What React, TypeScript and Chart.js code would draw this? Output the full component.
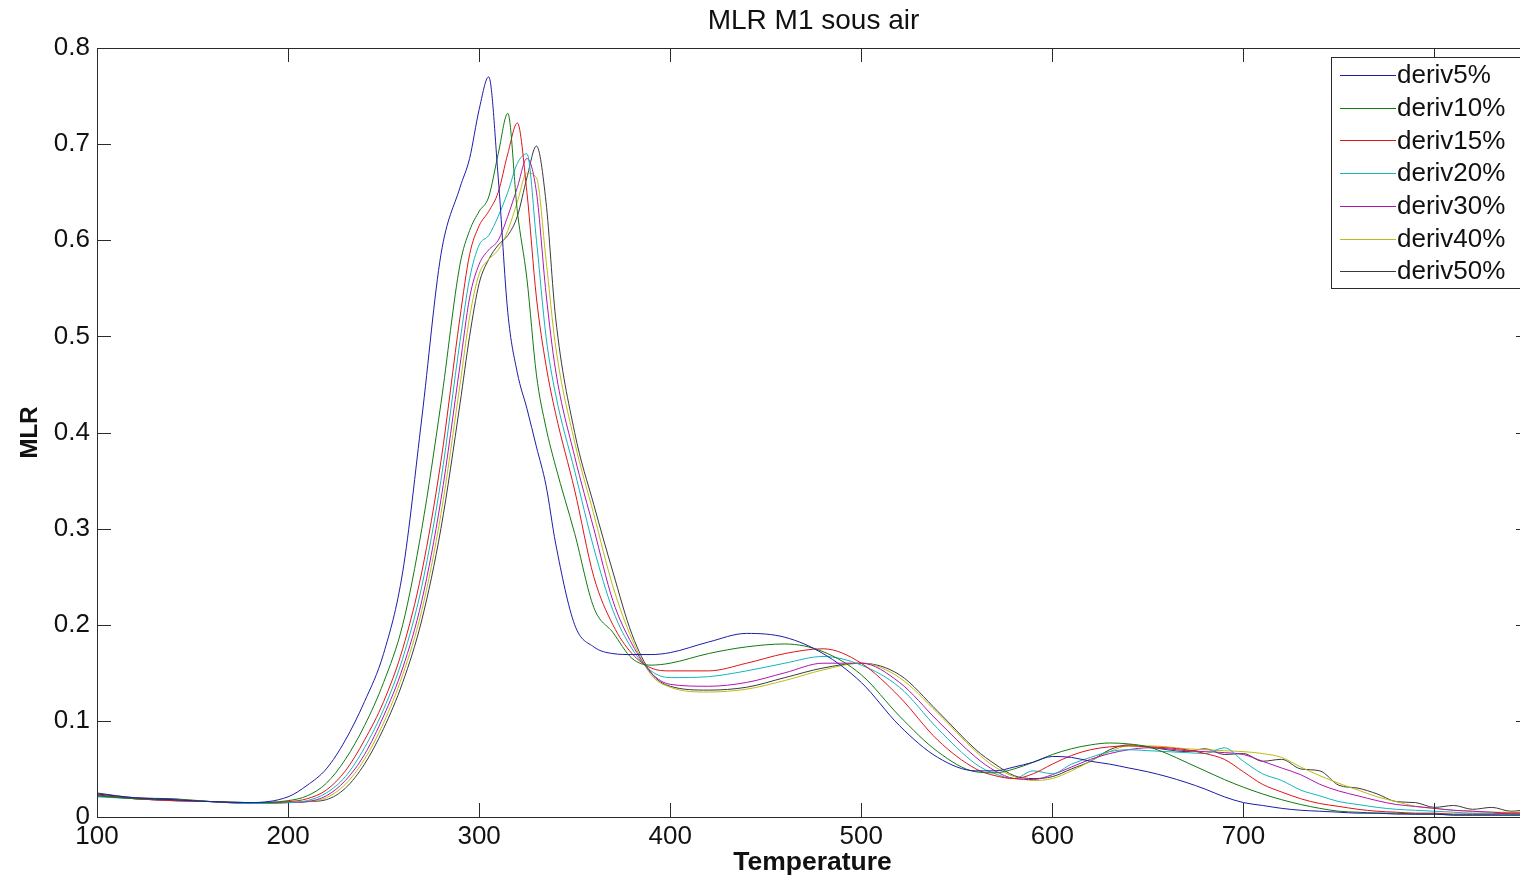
import React, { useEffect, useRef } from "react";
import { Chart, registerables } from "chart.js";

Chart.register(...registerables);

const TITLE = "MLR M1 sous air";
const X_LABEL = "Temperature";
const Y_LABEL = "MLR";
const X_TICKS = [100, 200, 300, 400, 500, 600, 700, 800];
const Y_TICKS = [0, 0.1, 0.2, 0.3, 0.4, 0.5, 0.6, 0.7, 0.8];

const TEMPS = [100, 120, 140, 160, 180, 200, 210, 220, 230, 240, 250, 260, 270, 280, 290, 295, 300, 305, 310, 315, 320, 325, 330, 335, 340, 350, 360, 370, 380, 390, 400, 420, 440, 460, 480, 500, 520, 540,
  560, 570, 580, 590, 600, 610, 620, 630, 640, 650, 660, 670, 680, 690, 700, 710, 720, 730, 740, 750, 760, 770, 780, 790, 800, 810, 820, 830, 840, 850];

const DERIV5 = [0.024, 0.020, 0.018, 0.016, 0.015, 0.021, 0.033, 0.050, 0.080, 0.120, 0.170, 0.255, 0.415, 0.585, 0.655, 0.685, 0.736, 0.770, 0.665, 0.525, 0.462, 0.425, 0.385, 0.345, 0.285, 0.200, 0.177, 0.170, 0.169, 0.169, 0.171, 0.182, 0.191, 0.187, 0.170, 0.140, 0.095, 0.062,
  0.048, 0.048, 0.052, 0.057, 0.063, 0.062, 0.058, 0.055, 0.051, 0.047, 0.042, 0.036, 0.029, 0.021, 0.015, 0.012, 0.009, 0.007, 0.006, 0.005, 0.004, 0.004, 0.003, 0.003, 0.003, 0.002, 0.002, 0.002, 0.002, 0.002];
const DERIV10 = [0.022, 0.019, 0.018, 0.016, 0.015, 0.017, 0.022, 0.035, 0.060, 0.095, 0.140, 0.200, 0.300, 0.430, 0.575, 0.610, 0.630, 0.645, 0.690, 0.732, 0.630, 0.560, 0.460, 0.405, 0.365, 0.295, 0.218, 0.192, 0.165, 0.158, 0.160, 0.170, 0.177, 0.180, 0.172, 0.148, 0.105, 0.068,
  0.047, 0.046, 0.050, 0.057, 0.065, 0.071, 0.075, 0.077, 0.076, 0.073, 0.066, 0.057, 0.048, 0.039, 0.031, 0.024, 0.018, 0.013, 0.009, 0.006, 0.005, 0.004, 0.004, 0.003, 0.003, 0.002, 0.002, 0.002, 0.002, 0.002];
const DERIV15 = [0.023, 0.019, 0.017, 0.016, 0.015, 0.016, 0.019, 0.028, 0.048, 0.080, 0.120, 0.175, 0.255, 0.370, 0.520, 0.585, 0.615, 0.630, 0.650, 0.690, 0.722, 0.650, 0.540, 0.470, 0.420, 0.340, 0.250, 0.200, 0.170, 0.155, 0.152, 0.152, 0.160, 0.170, 0.175, 0.160, 0.125, 0.080,
  0.050, 0.043, 0.040, 0.045, 0.055, 0.064, 0.070, 0.073, 0.074, 0.073, 0.072, 0.070, 0.066, 0.060, 0.047, 0.034, 0.026, 0.019, 0.014, 0.011, 0.008, 0.006, 0.005, 0.004, 0.004, 0.003, 0.003, 0.003, 0.004, 0.004];
const DERIV20 = [0.021, 0.019, 0.017, 0.016, 0.014, 0.015, 0.017, 0.025, 0.042, 0.072, 0.112, 0.165, 0.240, 0.350, 0.495, 0.560, 0.595, 0.605, 0.625, 0.650, 0.680, 0.690, 0.600, 0.500, 0.440, 0.360, 0.280, 0.215, 0.175, 0.152, 0.145, 0.146, 0.152, 0.160, 0.167, 0.158, 0.135, 0.092,
  0.055, 0.045, 0.040, 0.048, 0.045, 0.055, 0.062, 0.068, 0.070, 0.069, 0.068, 0.067, 0.066, 0.072, 0.058, 0.045, 0.038, 0.028, 0.022, 0.016, 0.013, 0.010, 0.008, 0.007, 0.006, 0.005, 0.004, 0.004, 0.003, 0.003];
const DERIV30 = [0.022, 0.019, 0.017, 0.016, 0.014, 0.015, 0.016, 0.022, 0.038, 0.065, 0.105, 0.155, 0.225, 0.330, 0.470, 0.540, 0.575, 0.590, 0.600, 0.625, 0.655, 0.685, 0.650, 0.545, 0.465, 0.375, 0.300, 0.225, 0.180, 0.150, 0.138, 0.136, 0.140, 0.150, 0.160, 0.160, 0.140, 0.100,
  0.062, 0.048, 0.040, 0.039, 0.044, 0.052, 0.060, 0.066, 0.070, 0.072, 0.071, 0.069, 0.068, 0.067, 0.065, 0.058, 0.051, 0.044, 0.034, 0.027, 0.022, 0.017, 0.013, 0.011, 0.009, 0.007, 0.006, 0.005, 0.004, 0.004];
const DERIV40 = [0.023, 0.019, 0.018, 0.016, 0.014, 0.015, 0.016, 0.020, 0.034, 0.060, 0.098, 0.148, 0.215, 0.315, 0.450, 0.520, 0.565, 0.580, 0.590, 0.610, 0.640, 0.670, 0.665, 0.580, 0.490, 0.390, 0.315, 0.240, 0.185, 0.148, 0.135, 0.130, 0.133, 0.142, 0.153, 0.160, 0.145, 0.108,
  0.068, 0.052, 0.042, 0.038, 0.040, 0.048, 0.058, 0.068, 0.074, 0.074, 0.073, 0.071, 0.070, 0.069, 0.068, 0.066, 0.062, 0.052, 0.043, 0.035, 0.028, 0.021, 0.016, 0.011, 0.009, 0.007, 0.006, 0.005, 0.005, 0.005];
const DERIV50 = [0.025, 0.020, 0.019, 0.016, 0.015, 0.015, 0.016, 0.018, 0.030, 0.055, 0.092, 0.140, 0.205, 0.300, 0.430, 0.500, 0.555, 0.580, 0.595, 0.605, 0.625, 0.665, 0.698, 0.640, 0.520, 0.400, 0.325, 0.255, 0.190, 0.150, 0.136, 0.132, 0.135, 0.145, 0.155, 0.160, 0.148, 0.110,
  0.070, 0.055, 0.043, 0.040, 0.042, 0.050, 0.058, 0.070, 0.075, 0.073, 0.070, 0.068, 0.071, 0.065, 0.066, 0.058, 0.060, 0.050, 0.048, 0.033, 0.030, 0.024, 0.016, 0.015, 0.010, 0.012, 0.008, 0.010, 0.006, 0.008];

const SERIES_LABELS = ["deriv5%", "deriv10%", "deriv15%", "deriv20%", "deriv30%", "deriv40%", "deriv50%"];
const SERIES_VALUES = [DERIV5, DERIV10, DERIV15, DERIV20, DERIV30, DERIV40, DERIV50];
const SERIES_COLORS = ["#1c1ca8", "#107a10", "#e01414", "#14b4bc", "#b014b0", "#bcbc14", "#3a3a3a"];

const FONT = "'Liberation Sans', Arial, Helvetica, sans-serif";
const AXIS_COLOR = "#2a2a2a";

const decorPlugin = {
  id: "decor",
  afterDraw(chart: any) {
    const ctx = chart.ctx;
    const a = chart.chartArea;
    const xs = chart.scales.x;
    const ys = chart.scales.y;
    ctx.save();
    ctx.strokeStyle = AXIS_COLOR;
    ctx.lineWidth = 1;
    ctx.strokeRect(Math.round(a.left) + 0.5, Math.round(a.top) + 0.5, Math.round(a.right - a.left), Math.round(a.bottom - a.top));
    const tl = 14;
    ctx.beginPath();
    X_TICKS.forEach((v) => {
      const px = Math.round(xs.getPixelForValue(v)) + 0.5;
      ctx.moveTo(px, a.bottom);
      ctx.lineTo(px, a.bottom - tl);
      ctx.moveTo(px, a.top);
      ctx.lineTo(px, a.top + tl);
    });
    Y_TICKS.forEach((v) => {
      const py = Math.round(ys.getPixelForValue(v)) + 0.5;
      ctx.moveTo(a.left, py);
      ctx.lineTo(a.left + tl, py);
      ctx.moveTo(a.right, py);
      ctx.lineTo(a.right - tl, py);
    });
    ctx.stroke();

    ctx.fillStyle = "#111";
    ctx.textAlign = "center";
    ctx.textBaseline = "alphabetic";
    ctx.font = `28px ${FONT}`;
    ctx.fillText(TITLE, (a.left + a.right) / 2, 29);
    ctx.font = `bold 26.5px ${FONT}`;
    ctx.fillText(X_LABEL, (a.left + a.right) / 2 - 1, 870);
    ctx.save();
    ctx.translate(37, (a.top + a.bottom) / 2);
    ctx.rotate(-Math.PI / 2);
    ctx.font = `bold 24px ${FONT}`;
    ctx.fillText(Y_LABEL, 0, 0);
    ctx.restore();

    const lx = 1331, ly = 57, lw = 194, lh = 231;
    ctx.fillStyle = "#fff";
    ctx.fillRect(lx, ly, lw, lh);
    ctx.strokeStyle = AXIS_COLOR;
    ctx.strokeRect(lx + 0.5, ly + 0.5, lw, lh);
    ctx.font = `26px ${FONT}`;
    ctx.textAlign = "left";
    ctx.textBaseline = "middle";
    SERIES_LABELS.forEach((lab, i) => {
      const cy = 75 + i * 32.7;
      ctx.strokeStyle = SERIES_COLORS[i];
      ctx.beginPath();
      ctx.moveTo(1340, Math.round(cy) + 0.5);
      ctx.lineTo(1396, Math.round(cy) + 0.5);
      ctx.stroke();
      ctx.fillStyle = "#111";
      ctx.fillText(lab, 1397, cy + 1);
    });
    ctx.restore();
  },
};

export default function App() {
  const ref = useRef<HTMLCanvasElement | null>(null);
  useEffect(() => {
    if (!ref.current) return;
    const chart = new Chart(ref.current, {
      type: "line",
      data: {
        datasets: SERIES_LABELS.map((label, i) => ({
          label,
          data: TEMPS.map((t, j) => ({ x: t, y: SERIES_VALUES[i][j] })),
          borderColor: SERIES_COLORS[i],
          backgroundColor: SERIES_COLORS[i],
          borderWidth: 1,
          pointRadius: 0,
          fill: false,
          cubicInterpolationMode: "monotone" as const,
        })),
      },
      options: {
        responsive: false,
        animation: false,
        layout: { padding: { top: 48, right: 15, left: 0, bottom: 0 } },
        plugins: {
          legend: { display: false },
          title: { display: false },
          tooltip: { enabled: false },
        },
        scales: {
          x: {
            type: "linear",
            min: 100,
            max: 850,
            afterBuildTicks: (s: any) => {
              s.ticks = X_TICKS.map((v) => ({ value: v }));
            },
            afterFit: (s: any) => {
              s.height = 62;
            },
            grid: { display: false, drawTicks: false },
            border: { display: false },
            ticks: {
              autoSkip: false,
              maxRotation: 0,
              padding: 4,
              color: "#111",
              font: { size: 26, family: FONT },
              callback: (v: any) => String(v),
            },
          },
          y: {
            type: "linear",
            min: 0,
            max: 0.8,
            afterBuildTicks: (s: any) => {
              s.ticks = Y_TICKS.map((v) => ({ value: v }));
            },
            afterFit: (s: any) => {
              s.width = 97;
            },
            grid: { display: false, drawTicks: false },
            border: { display: false },
            ticks: {
              autoSkip: false,
              padding: 7,
              color: "#111",
              font: { size: 26, family: FONT },
              callback: (v: any) => (Number(v) === 0 ? "0" : Number(v).toFixed(1)),
            },
          },
        },
      },
      plugins: [decorPlugin],
    });
    return () => chart.destroy();
  }, []);
  return (
    <div style={{ position: "fixed", left: 0, top: 0, width: 1520, height: 879, overflow: "hidden", background: "#fff" }}>
      <canvas ref={ref} width={1545} height={879} style={{ display: "block" }} />
    </div>
  );
}
